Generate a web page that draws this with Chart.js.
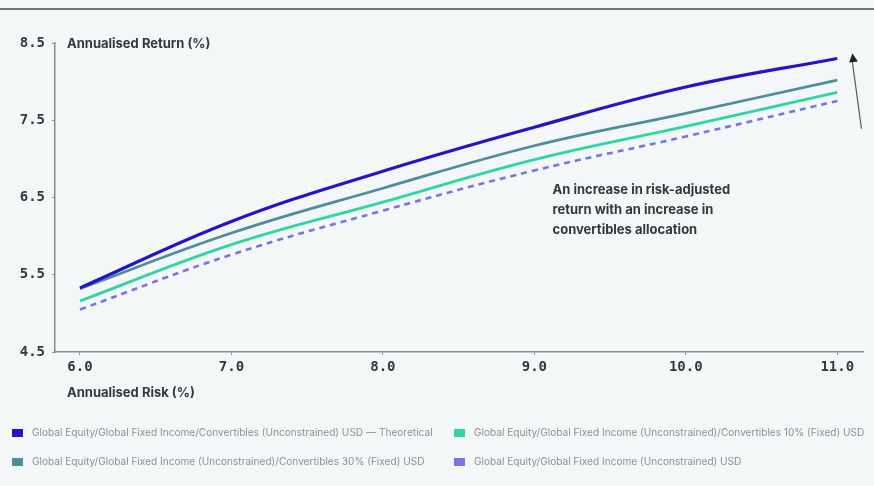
<!DOCTYPE html>
<html>
<head>
<meta charset="utf-8">
<script src="https://cdn.jsdelivr.net/npm/chart.js@4/dist/chart.umd.min.js"></script>
<style>
  html, body { margin: 0; padding: 0; background: #f4f7f8; }
  #wrap { position: relative; width: 874px; height: 486px; overflow: hidden; }
  #rule { position: absolute; left: 0; top: 8px; width: 874px; height: 2px; background: #6f7173; }
  canvas { position: absolute; left: 0; top: 0; }
  .lg { position: absolute; white-space: nowrap; font: 10.1px "Inter", "Liberation Sans", sans-serif; color: #8c9196; }
  .lg i { display: inline-block; width: 11px; height: 8px; margin-right: 9px; vertical-align: -1px; }
</style>
</head>
<body>
<div id="wrap">
  <div id="rule"></div>
  <canvas id="c" width="874" height="486"></canvas>
  <div id="legend"></div>
</div>
<script>
// Annualised risk (%) at which each portfolio is evaluated
const riskLevels = [6.0, 7.0, 8.0, 9.0, 10.0, 11.0];

// Annualised return (%) per portfolio
const theoretical = [5.33, 6.19, 6.84, 7.41, 7.93, 8.30];
const conv10 = [5.16, 5.89, 6.44, 6.99, 7.42, 7.86];
const conv30 = [5.32, 6.04, 6.62, 7.17, 7.59, 8.02];
const unconstrained = [5.05, 5.76, 6.33, 6.85, 7.29, 7.75];

const seriesLabels = [
  'Global Equity/Global Fixed Income/Convertibles (Unconstrained) USD \u2014 Theoretical',
  'Global Equity/Global Fixed Income (Unconstrained)/Convertibles 10% (Fixed) USD',
  'Global Equity/Global Fixed Income (Unconstrained)/Convertibles 30% (Fixed) USD',
  'Global Equity/Global Fixed Income (Unconstrained) USD'
];

const xTicks = [6.0, 7.0, 8.0, 9.0, 10.0, 11.0];
const yTicks = [4.5, 5.5, 6.5, 7.5, 8.5];

const noteLines = [
  'An increase in risk-adjusted',
  'return with an increase in',
  'convertibles allocation'
];

const pts = vals => riskLevels.map((x, i) => ({ x, y: vals[i] }));

const datasets = [
  { label: seriesLabels[0], data: pts(theoretical), borderColor: '#2313c9', backgroundColor: '#2313c9', borderWidth: 3.2, order: 0 },
  { label: seriesLabels[1], data: pts(conv10), borderColor: '#2fd6a3', backgroundColor: '#2fd6a3', borderWidth: 2.8, order: 2 },
  { label: seriesLabels[2], data: pts(conv30), borderColor: '#4d8e9d', backgroundColor: '#4d8e9d', borderWidth: 2.8, order: 1 },
  { label: seriesLabels[3], data: pts(unconstrained), borderColor: '#7a73e3', backgroundColor: '#7a73e3', borderWidth: 2.6, borderDash: [6, 5], order: 3 }
];

const textColor = '#35383b';
const monoFont = { family: '"DejaVu Sans Mono", monospace', size: 14, weight: 'bold' };

const decorations = {
  id: 'decorations',
  afterDraw(chart) {
    const { ctx, scales: { x, y } } = chart;
    ctx.save();
    ctx.fillStyle = textColor;
    ctx.font = '700 13px "Inter", "Liberation Sans", sans-serif';
    ctx.textBaseline = 'middle';
    ctx.textAlign = 'left';
    // axis titles
    ctx.fillText('Annualised Return (%)', x.left + 12, y.getPixelForValue(8.5) + 1);
    ctx.fillText('Annualised Risk (%)', x.left + 12, y.bottom + 41);
    // annotation
    noteLines.forEach((t, i) => ctx.fillText(t, x.getPixelForValue(9.12), y.getPixelForValue(6.6) + i * 20));
    // arrow
    const x0 = x.getPixelForValue(11.16), y0 = y.getPixelForValue(7.39);
    const x1 = x.getPixelForValue(11.1), y1 = y.getPixelForValue(8.33);
    ctx.strokeStyle = '#55585b';
    ctx.lineWidth = 1.2;
    ctx.beginPath(); ctx.moveTo(x0, y0); ctx.lineTo(x1, y1 + 6); ctx.stroke();
    const ang = Math.atan2(y1 - y0, x1 - x0);
    ctx.fillStyle = '#222';
    ctx.beginPath();
    ctx.moveTo(x1, y1 - 3);
    ctx.lineTo(x1 - 10 * Math.cos(ang - 0.45), y1 - 3 - 10 * Math.sin(ang - 0.45));
    ctx.lineTo(x1 - 10 * Math.cos(ang + 0.45), y1 - 3 - 10 * Math.sin(ang + 0.45));
    ctx.closePath(); ctx.fill();
    ctx.restore();
  }
};

new Chart(document.getElementById('c'), {
  type: 'line',
  data: { datasets },
  options: {
    responsive: false,
    animation: false,
    layout: { padding: { top: 43, right: 11, left: 0, bottom: 0 } },
    elements: {
      point: { radius: 0 },
      line: { tension: 0.4, fill: false, borderCapStyle: 'butt' }
    },
    plugins: { legend: { display: false }, tooltip: { enabled: false } },
    scales: {
      x: {
        type: 'linear', min: 5.835, max: 11.17,
        afterBuildTicks: s => { s.ticks = xTicks.map(v => ({ value: v })); },
        afterFit: s => { s.height = 134; },
        border: { display: true, color: '#8a8d90', width: 1.5 },
        grid: { display: true, drawOnChartArea: false, drawTicks: true, tickLength: 3, color: '#8a8d90' },
        ticks: { color: textColor, font: monoFont, padding: 4, maxRotation: 0, callback: v => v.toFixed(1) }
      },
      y: {
        type: 'linear', min: 4.5, max: 8.5,
        afterBuildTicks: s => { s.ticks = yTicks.map(v => ({ value: v })); },
        afterFit: s => { s.width = 55; },
        border: { display: true, color: '#8a8d90', width: 1.5 },
        grid: { display: true, drawOnChartArea: false, drawTicks: true, tickLength: 3, color: '#8a8d90' },
        ticks: { color: textColor, font: monoFont, padding: 7, callback: v => v.toFixed(1) }
      }
    }
  },
  plugins: [decorations]
});

// legend in two rows of two: theoretical, 10%, 30%, unconstrained
const legend = document.getElementById('legend');
const legendPos = [[12, 426], [454, 426], [12, 455], [454, 455]];
datasets.forEach((d, k) => {
  const el = document.createElement('div');
  el.className = 'lg';
  el.style.left = legendPos[k][0] + 'px';
  el.style.top = legendPos[k][1] + 'px';
  el.innerHTML = '<i style="background:' + d.borderColor + '"></i>';
  el.appendChild(document.createTextNode(d.label));
  legend.appendChild(el);
});
</script>
</body>
</html>
